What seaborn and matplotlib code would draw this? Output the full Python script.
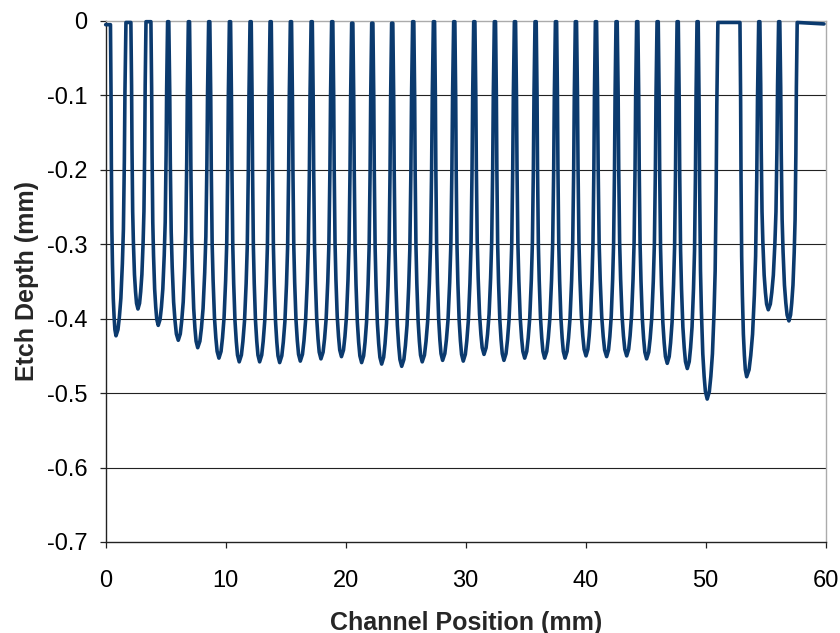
import matplotlib
matplotlib.use('Agg')
import matplotlib.pyplot as plt
import numpy as np
import pandas as pd
import seaborn as sns

# channel bottoms (mm, mm)
CHANNEL_MIN_X = [0.86, 2.69, 4.38, 6.05, 7.67, 9.44, 11.13, 12.83, 14.50, 16.22,
                 17.94, 19.65, 21.33, 23.00, 24.67, 26.38, 28.08, 29.80, 31.53, 33.19,
                 34.92, 36.58, 38.28, 40.03, 41.75, 43.42, 45.08, 46.80, 48.47, 50.13,
                 53.42, 55.22, 56.94]
CHANNEL_MIN_DEPTH = [-0.423, -0.387, -0.409, -0.429, -0.439, -0.453, -0.458, -0.458, -0.459, -0.457,
                     -0.454, -0.451, -0.459, -0.461, -0.464, -0.458, -0.456, -0.457, -0.448, -0.456,
                     -0.453, -0.453, -0.453, -0.450, -0.451, -0.450, -0.454, -0.460, -0.467, -0.508,
                     -0.478, -0.388, -0.403]

# ridge tops between channels: start / end of the flat top and its height
RIDGE_START = [0.00, 1.69, 3.36, 5.16, 6.89, 8.58, 10.31, 12.03, 13.70, 15.39,
               17.12, 18.83, 20.50, 22.17, 23.83, 25.58, 27.31, 29.00, 30.67, 32.39,
               34.06, 35.78, 37.48, 39.14, 40.81, 42.53, 44.25, 45.95, 47.62, 49.28,
               51.02, 54.42, 56.08, 57.63]
RIDGE_END = [0.40, 2.10, 3.77, 5.26, 6.99, 8.68, 10.41, 12.13, 13.80, 15.49,
             17.22, 18.93, 20.60, 22.27, 23.93, 25.68, 27.41, 29.10, 30.77, 32.49,
             34.16, 35.88, 37.58, 39.24, 40.91, 42.63, 44.35, 46.05, 47.72, 49.38,
             52.86, 54.52, 56.18, 59.86]
RIDGE_TOP = [-0.005, -0.002, -0.001, -0.001, -0.001, -0.001, -0.001, -0.001, -0.001, -0.001,
             -0.001, -0.001, -0.003, -0.003, -0.003, -0.001, -0.001, -0.001, -0.001, -0.001,
             -0.001, -0.001, -0.001, -0.001, -0.001, -0.001, -0.001, -0.001, -0.001, -0.001,
             -0.002, -0.001, -0.001, -0.002]
TRACE_END_DEPTH = -0.004

# wall shape of one channel (depth fraction vs half-width fraction)
WALL_DEPTH_FRAC = [0.0, 0.22, 0.44, 0.66, 0.77, 0.88, 0.94, 0.98, 1.0]
WALL_WIDTH_FRAC = [1.0, 0.90, 0.84, 0.745, 0.64, 0.49, 0.34, 0.20, 0.0]

xs, ys = [], []
d = np.array(WALL_DEPTH_FRAC)
w = np.array(WALL_WIDTH_FRAC)
for i in range(len(CHANNEL_MIN_X)):
    xs += [RIDGE_START[i], RIDGE_END[i]]
    ys += [RIDGE_TOP[i], RIDGE_TOP[i]]
    xm, dm = CHANNEL_MIN_X[i], CHANNEL_MIN_DEPTH[i]
    xl, yl = RIDGE_END[i], RIDGE_TOP[i]
    xr, yr = RIDGE_START[i + 1], RIDGE_TOP[i + 1]
    xs += list(xm - (xm - xl) * w[1:])
    ys += list(yl + (dm - yl) * d[1:])
    xs += list(xm + (xr - xm) * w[::-1][1:-1])
    ys += list(yr + (dm - yr) * d[::-1][1:-1])
xs += [RIDGE_START[-1], RIDGE_END[-1]]
ys += [RIDGE_TOP[-1], TRACE_END_DEPTH]

profile = pd.DataFrame({'Channel Position (mm)': xs, 'Etch Depth (mm)': ys})

sns.set_theme(style='white')
plt.rcParams['font.family'] = ['Liberation Sans', 'DejaVu Sans']
plt.rcParams['axes.unicode_minus'] = False

fig = plt.figure(figsize=(8.4, 6.33), dpi=100)
ax = fig.add_axes([0.1258, 0.1438, 0.8571, 0.8231])

sns.lineplot(data=profile, x='Channel Position (mm)', y='Etch Depth (mm)',
             sort=False, estimator=None, color='#0b3a6e', linewidth=2.6,
             ax=ax, clip_on=False, zorder=3)

ax.set_xlim(0, 60)
ax.set_ylim(-0.7, 0)
ax.set_xticks(range(0, 61, 10))
yticks = [-0.7, -0.6, -0.5, -0.4, -0.3, -0.2, -0.1, 0]
ax.set_yticks(yticks)
ax.set_yticklabels([f'{v:g}' for v in yticks])

ax.yaxis.grid(True, color='#222222', linewidth=0.8)
ax.get_ygridlines()[-1].set_visible(False)
ax.get_ygridlines()[0].set_visible(False)

for side in ['left', 'bottom']:
    ax.spines[side].set_color('#222222')
    ax.spines[side].set_linewidth(1.0)
for side in ['top', 'right']:
    ax.spines[side].set_color('#ababab')
    ax.spines[side].set_linewidth(1.0)

ax.tick_params(axis='both', which='major', direction='out', length=4.5, width=0.9,
               color='#222222', labelsize=17, labelcolor='black',
               bottom=True, left=True)
ax.tick_params(axis='y', pad=8.5)
ax.tick_params(axis='x', pad=16)

ax.set_xlabel('Channel Position (mm)', fontsize=18, fontweight='bold', labelpad=13)
ax.set_ylabel('Etch Depth (mm)', fontsize=18, fontweight='bold', labelpad=6)

fig.savefig('out.png', dpi=100)
